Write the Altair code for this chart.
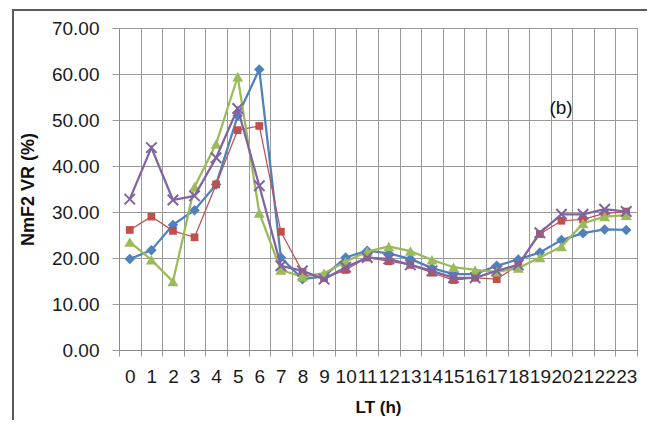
import altair as alt
import pandas as pd

hours = list(range(24))
series_names = ["Series1", "Series2", "Series3", "Series4"]
blue = [19.8, 21.7, 27.2, 30.4, 36.0, 50.9, 61.0, 20.1, 15.4, 16.0, 20.1, 21.6,
        21.0, 19.8, 17.8, 16.5, 16.5, 18.3, 19.7, 21.2, 23.9, 25.4, 26.2, 26.1]
red = [26.1, 29.0, 25.9, 24.5, 36.0, 47.8, 48.7, 25.7, 17.0, 15.6, 17.4, 20.1,
       19.3, 18.5, 16.8, 15.2, 15.7, 15.4, 18.5, 25.2, 28.1, 28.4, 29.7, 30.1]
green = [23.5, 19.6, 14.9, 35.5, 44.8, 59.4, 29.8, 17.4, 15.9, 16.7, 19.2, 21.4,
         22.5, 21.5, 19.6, 18.0, 17.4, 17.0, 17.8, 20.1, 22.5, 27.5, 29.0, 29.3]
purple = [32.8, 44.0, 32.6, 33.5, 41.8, 52.5, 35.7, 18.3, 17.2, 15.4, 18.0, 20.1,
          19.8, 18.5, 17.2, 15.7, 15.7, 17.2, 18.5, 25.5, 29.5, 29.5, 30.6, 30.1]

colors = ["#4F81BD", "#C0504D", "#9BBB59", "#8064A2"]
widths = [2.25, 1.25, 2.25, 2.25]
shapes = ["diamond", "square", "triangle-up", "M-1,-1L1,1M1,-1L-1,1"]
sizes = [110, 60, 120, 110]
filled = [True, True, True, False]

font = "Liberation Sans"
boundaries = [h - 0.5 for h in hours] + [23.5]

x_enc = alt.X(
    "LT:Q",
    scale=alt.Scale(domain=[-0.5, 23.5], nice=False, zero=False),
    axis=alt.Axis(
        values=boundaries,
        labelExpr="datum.value < 23 ? format(datum.value + 0.5, 'd') : ''",
        labelOffset=10.8,
        labelOverlap=False,
        labelFlush=False,
        labelBound=False,
        title="LT (h)",
        grid=True,
        tickSize=6,
        labelPadding=11,
        titlePadding=13,
    ),
)
y_enc = alt.Y(
    "VR:Q",
    scale=alt.Scale(domain=[0, 70], nice=False),
    axis=alt.Axis(
        values=[0, 10, 20, 30, 40, 50, 60, 70],
        format=".2f",
        title="NmF2 VR (%)",
        grid=True,
        tickSize=7,
        labelPadding=13,
        titlePadding=14,
        labelOverlap=False,
    ),
)

layers = []
frame = alt.Chart(pd.DataFrame({"a": [0]})).mark_rect(
    fillOpacity=0, stroke="#5a5a5a", strokeWidth=2
).encode(x=alt.value(-106), x2=alt.value(530), y=alt.value(-18), y2=alt.value(460))
layers.append(frame)

for name, vals, col, w, shp, sz, fl in zip(series_names, [blue, red, green, purple],
                                           colors, widths, shapes, sizes, filled):
    d = pd.DataFrame({"LT": hours, "VR": vals, "series": name})
    base = alt.Chart(d).encode(x=x_enc, y=y_enc)
    layers.append(base.mark_line(color=col, strokeWidth=w))
    if fl:
        layers.append(base.mark_point(filled=True, opacity=1, color=col, shape=shp, size=sz))
    else:
        layers.append(base.mark_point(filled=False, opacity=1, color=col, shape=shp,
                                      size=sz, strokeWidth=2))

annot = alt.Chart(pd.DataFrame({"t": ["(b)"]})).mark_text(
    font=font, fontSize=19, color="#111", align="center", baseline="middle"
).encode(text="t:N", x=alt.value(442), y=alt.value(80))
layers.append(annot)

chart = alt.layer(*layers).properties(
    width=518,
    height=322,
    autosize=alt.AutoSizeParams(type="none"),
    padding={"left": 111, "top": 20, "right": 10, "bottom": 70},
    background="white",
).configure_axis(
    labelFont=font,
    labelFontSize=19,
    labelColor="#1a1a1a",
    titleFont=font,
    titleFontSize=18,
    titleFontWeight="bold",
    titleColor="#111",
    gridColor="#9a9a9a",
    gridWidth=1,
    gridOpacity=1,
    tickColor="#9a9a9a",
    domainColor="#8a8a8a",
).configure_axisX(titleFontSize=17, labelOverlap=False).configure_view(stroke="#9a9a9a")

chart.save("out.html", embed_options={"renderer": "svg", "actions": False})
